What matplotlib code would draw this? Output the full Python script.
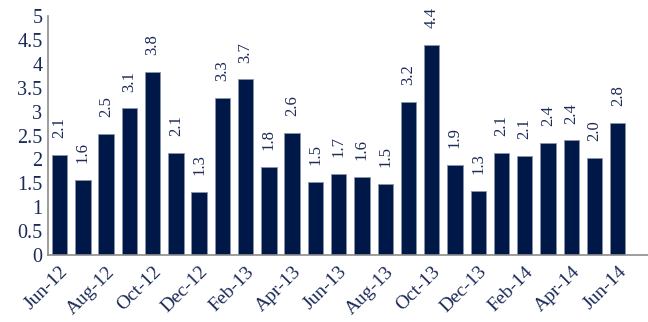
import matplotlib
matplotlib.use("Agg")
import matplotlib.pyplot as plt

months = [
    "Jun-12", "Jul-12", "Aug-12", "Sep-12", "Oct-12", "Nov-12", "Dec-12",
    "Jan-13", "Feb-13", "Mar-13", "Apr-13", "May-13", "Jun-13", "Jul-13",
    "Aug-13", "Sep-13", "Oct-13", "Nov-13", "Dec-13", "Jan-14", "Feb-14",
    "Mar-14", "Apr-14", "May-14", "Jun-14",
]
values = [
    2.10, 1.57, 2.54, 3.07, 3.83, 2.14, 1.32,
    3.29, 3.68, 1.84, 2.56, 1.53, 1.70, 1.64,
    1.49, 3.20, 4.40, 1.89, 1.34, 2.14, 2.08,
    2.35, 2.40, 2.04, 2.77,
]
labels = [
    "2.1", "1.6", "2.5", "3.1", "3.8", "2.1", "1.3",
    "3.3", "3.7", "1.8", "2.6", "1.5", "1.7", "1.6",
    "1.5", "3.2", "4.4", "1.9", "1.3", "2.1", "2.1",
    "2.4", "2.4", "2.0", "2.8",
]
yticks = [0, 0.5, 1, 1.5, 2, 2.5, 3, 3.5, 4, 4.5, 5]

bar_color = "#001848"
text_color = "#1c2a58"

plt.rcParams["font.family"] = ["Liberation Serif", "DejaVu Serif"]

fig = plt.figure(figsize=(6.48, 3.22), dpi=100)
ax = fig.add_axes([0.074, 0.208, 0.926, 0.742])

x = list(range(len(months)))
ax.bar(x, values, width=0.66, color=bar_color, edgecolor="#8a94aa", linewidth=0.6)

for xi, v, lab in zip(x, values, labels):
    ax.annotate(lab, (xi, v), xytext=(0, 12), textcoords="offset points",
                rotation=90, ha="center", va="bottom", fontsize=12,
                color=text_color)

ax.set_ylim(0, 5)
ax.set_xlim(-0.5, 25.3)
ax.set_yticks(yticks)
ax.set_yticklabels([f"{t:g}" for t in yticks], fontsize=14.5, color=text_color)
ax.set_xticks(x[::2])
ax.set_xticklabels(months[::2], rotation=45, ha="right", rotation_mode="anchor",
                   fontsize=14, color=text_color)
ax.tick_params(axis="y", length=0, pad=4)
ax.tick_params(axis="x", length=0, pad=6)

for side in ["top", "right"]:
    ax.spines[side].set_visible(False)
for side in ["left", "bottom"]:
    ax.spines[side].set_color("#8c8c8c")
    ax.spines[side].set_linewidth(1.2)

fig.savefig("out.png", dpi=100)
